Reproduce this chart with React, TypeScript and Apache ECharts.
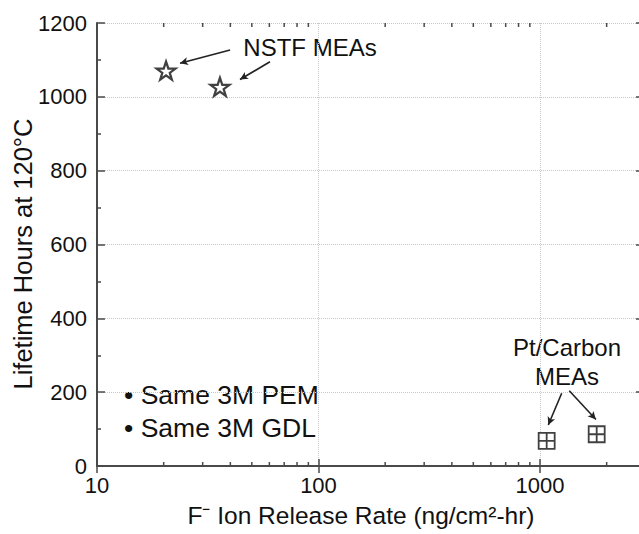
import React, { useEffect, useRef } from "react";
import * as echarts from "echarts";

// ---- data ----
const nstfX = [20.5, 35.9];
const nstfY = [1071, 1027];
const ptcX = [1072, 1803];
const ptcY = [68, 86];

const xMin = 10;
const xMax = 2858;
const yMin = 0;
const yMax = 1200;
const yInterval = 200;
const xMajorLabels = ["10", "100", "1000"];
const xMinorTicks = [20, 30, 40, 50, 60, 70, 80, 90, 200, 300, 400, 500, 600, 700, 800, 900, 2000];

// annotation arrows in data coordinates: [fromX, fromY, toX, toY]
const nstfArrows = [
  [39.9, 1127, 23.7, 1091],
  [60.4, 1095, 44.2, 1047],
];
const ptcArrows = [
  [1253, 197, 1090, 111],
  [1356, 204, 1789, 126],
];

const FONT = '"Liberation Sans", Arial, Helvetica, sans-serif';
const AXIS = "#4a4a4a";
const TEXT = "#111";

const STAR =
  "path://M50,0 L61.8,35.1 L98.1,35.1 L68.8,56.7 L79.4,90.9 L50,69.1 L20.6,90.9 L31.2,56.7 L1.9,35.1 L38.2,35.1 Z";
const SQCROSS = "path://M0,0 L10,0 L10,10 L0,10 Z M5,0 L5,10 M0,5 L10,5";

function arrowData(list: number[][]) {
  return list.map((a) => [{ coord: [a[0], a[1]] }, { coord: [a[2], a[3]] }]);
}

export default function App() {
  const ref = useRef<HTMLDivElement>(null);
  useEffect(() => {
    if (!ref.current) return;
    const chart = echarts.init(ref.current, null, { renderer: "svg" });
    const isPow = (v: number) => Math.abs(Math.log10(v) - Math.round(Math.log10(v))) < 1e-6;
    const option: any = {
      animation: false,
      backgroundColor: "#fff",
      grid: { left: 97, top: 23, right: -2, bottom: 68, containLabel: false, outerBoundsMode: "none" },
      xAxis: [
        {
          type: "log",
          logBase: 10,
          min: xMin,
          max: xMax,
          axisLine: { show: true, lineStyle: { color: AXIS, width: 2 } },
          axisTick: { show: true, inside: true, length: 7, lineStyle: { color: AXIS, width: 1.5 } },
          axisLabel: {
            show: true,
            margin: 8,
            color: TEXT,
            fontFamily: FONT,
            fontSize: 22,
            showMaxLabel: false,
            formatter: (v: number) => {
              if (!isPow(v)) return "";
              const s = String(Math.round(v));
              return xMajorLabels.indexOf(s) >= 0 ? s : "";
            },
          },
          splitLine: { show: true, lineStyle: { color: "#c8c8c8", type: "dotted", width: 1 } },
        },
        {
          type: "log",
          logBase: 10,
          position: "top",
          min: xMin,
          max: xMax,
          axisLine: { show: true, lineStyle: { color: AXIS, width: 2 } },
          axisTick: { show: true, inside: true, length: 7, lineStyle: { color: AXIS, width: 1.5 } },
          axisLabel: { show: false },
          splitLine: { show: false },
        },
      ],
      yAxis: [
        {
          type: "value",
          min: yMin,
          max: yMax,
          interval: yInterval,
          axisLine: { show: true, lineStyle: { color: AXIS, width: 2 } },
          axisTick: { show: true, inside: true, length: 8, lineStyle: { color: AXIS, width: 1.5 } },
          minorTick: { show: true, splitNumber: 2, length: 4, lineStyle: { color: AXIS, width: 1.5 } },
          axisLabel: {
            margin: 10,
            color: TEXT,
            fontFamily: FONT,
            fontSize: 22,
            formatter: (v: number) => String(v),
          },
          splitLine: { show: true, lineStyle: { color: "#c8c8c8", type: "dotted", width: 1 } },
        },
        {
          type: "value",
          position: "right",
          min: yMin,
          max: yMax,
          interval: yInterval,
          axisLine: { show: true, lineStyle: { color: AXIS, width: 2 } },
          axisTick: { show: true, inside: true, length: 5, lineStyle: { color: AXIS, width: 1.5 } },
          axisLabel: { show: false },
          splitLine: { show: false },
        },
      ],
      series: [
        {
          name: "NSTF MEAs",
          type: "scatter",
          data: nstfX.map((x, i) => [x, nstfY[i]]),
          symbol: STAR,
          symbolSize: [19, 18],
          itemStyle: { color: "#fff", borderColor: "#111", borderWidth: 2.2 },
          markLine: {
            silent: true,
            symbol: ["none", "arrow"],
            symbolSize: [6, 8],
            label: { show: false },
            lineStyle: { color: "#222", width: 1.6, type: "solid" },
            data: arrowData(nstfArrows),
          },
          z: 5,
        },
        {
          name: "Pt/Carbon MEAs",
          type: "scatter",
          data: ptcX.map((x, i) => [x, ptcY[i]]),
          symbol: SQCROSS,
          symbolSize: 16,
          itemStyle: { color: "#fff", borderColor: "#111", borderWidth: 1.8 },
          markLine: {
            silent: true,
            symbol: ["none", "arrow"],
            symbolSize: [6, 8],
            label: { show: false },
            lineStyle: { color: "#222", width: 1.6, type: "solid" },
            data: arrowData(ptcArrows),
          },
          z: 5,
        },
        {
          name: "minorTicks",
          type: "custom",
          silent: true,
          xAxisIndex: 0,
          yAxisIndex: 0,
          encode: { x: 0, y: 1 },
          clip: false,
          data: xMinorTicks.map((v) => [v, yMin]),
          renderItem: (params: any, api: any) => {
            const v = api.value(0);
            const b = api.coord([v, yMin]);
            const t = api.coord([v, yMax]);
            const st = { stroke: AXIS, lineWidth: 1.5 };
            return {
              type: "group",
              children: [
                { type: "line", shape: { x1: b[0], y1: b[1], x2: b[0], y2: b[1] - 4 }, style: st },
                { type: "line", shape: { x1: t[0], y1: t[1], x2: t[0], y2: t[1] + 4 }, style: st },
              ],
            };
          },
        },
      ],
      graphic: [
        {
          type: "text",
          x: 23,
          y: 254,
          rotation: Math.PI / 2,
          style: {
            text: "Lifetime Hours at 120°C",
            font: `25.5px ${FONT}`,
            fill: TEXT,
            textAlign: "center",
            textVerticalAlign: "middle",
          },
        },
        {
          type: "text",
          x: 361,
          y: 515,
          style: {
            text: "F⁻ Ion Release Rate (ng/cm²-hr)",
            font: `24.5px ${FONT}`,
            fill: TEXT,
            textAlign: "center",
            textVerticalAlign: "middle",
          },
        },
        {
          type: "text",
          x: 310,
          y: 47,
          style: {
            text: "NSTF MEAs",
            font: `24px ${FONT}`,
            fill: TEXT,
            textAlign: "center",
            textVerticalAlign: "middle",
          },
        },
        {
          type: "text",
          x: 567,
          y: 362,
          style: {
            text: "Pt/Carbon\nMEAs",
            font: `24px ${FONT}`,
            lineHeight: 29,
            fill: TEXT,
            textAlign: "center",
            textVerticalAlign: "middle",
          },
        },
        {
          type: "text",
          x: 124,
          y: 411,
          style: {
            text: "• Same 3M PEM\n• Same 3M GDL",
            font: `26.5px ${FONT}`,
            lineHeight: 33,
            fill: TEXT,
            textAlign: "left",
            textVerticalAlign: "middle",
          },
        },
      ],
    };
    chart.setOption(option);
    return () => chart.dispose();
  }, []);
  return (
    <div
      ref={ref}
      style={{ position: "absolute", left: 0, top: 0, width: 639, height: 534, background: "#fff" }}
    />
  );
}
